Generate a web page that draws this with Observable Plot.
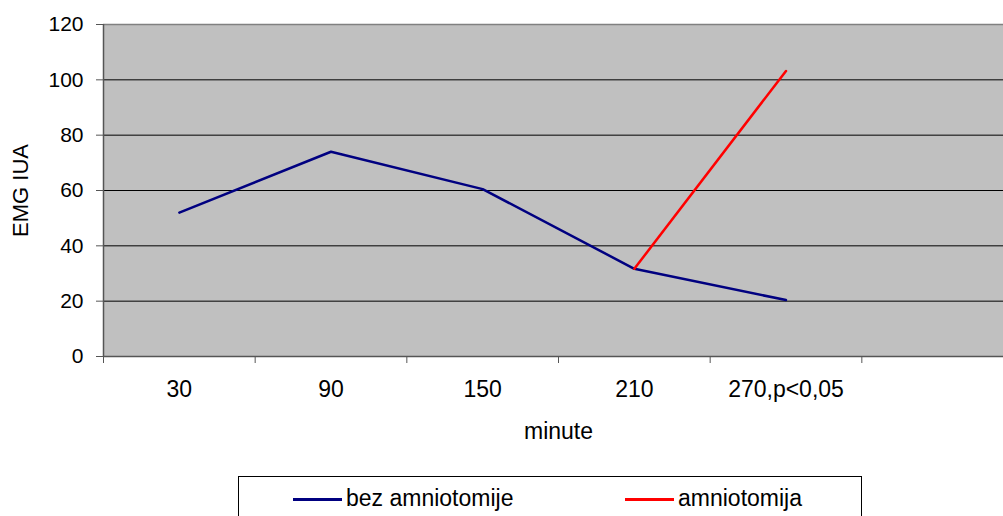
<!DOCTYPE html>
<html>
<head>
<meta charset="utf-8">
<script src="https://cdn.jsdelivr.net/npm/d3@7"></script>
<script src="https://cdn.jsdelivr.net/npm/@observablehq/plot@0.6"></script>
<style>
  html, body { margin: 0; padding: 0; background: #fff; overflow: hidden; width: 1003px; height: 516px; }
  #wrap { position: relative; width: 1003px; height: 516px; overflow: hidden; font-family: "Liberation Sans", Arial, sans-serif; }
  #wrap svg { position: absolute; left: 0; top: 0; max-width: none !important; }
  #legend { position: absolute; left: 238px; top: 476px; width: 624px; height: 60px; border: 1px solid #000; box-sizing: border-box; background: #fff; }
  .swatch { position: absolute; height: 2.5px; width: 49px; }
  .label { position: absolute; font-size: 23px; line-height: 23px; color: #000; white-space: nowrap; }
</style>
</head>
<body>
<div id="wrap"></div>
<script>
// ---- data ----
const categories = ["30", "90", "150", "210", "270,p<0,05"];
const bezAmniotomije = [52, 74, 60.5, 31.7, 20.4];
const amniotomija = [null, null, null, 31.7, 103.2];
const yTicks = [0, 20, 40, 60, 80, 100, 120];
const seriesNames = ["bez amniotomije", "amniotomija"];
const seriesColors = ["#000080", "#ff0000"];
const xTitle = "minute";
const yTitle = "EMG IUA";

// category slots: 5 labelled + 1 empty slot (as in the original)
const slotCount = categories.length + 1;
const rows = [];
categories.forEach((c, i) => {
  rows.push({series: seriesNames[0], pos: i + 0.5, value: bezAmniotomije[i]});
  if (amniotomija[i] != null) rows.push({series: seriesNames[1], pos: i + 0.5, value: amniotomija[i]});
});

const chart = Plot.plot({
  width: 1013,
  height: 476,
  marginLeft: 103,
  marginRight: 0,
  marginTop: 24,
  marginBottom: 120,
  style: {fontFamily: "'Liberation Sans', Arial, sans-serif", fontSize: "21px", color: "#000", background: "transparent", overflow: "visible", maxWidth: "none"},
  x: {domain: [0, slotCount], axis: null},
  y: {domain: [0, 120], axis: null},
  color: {domain: seriesNames, range: seriesColors},
  marks: [
    Plot.frame({fill: "#c0c0c0", stroke: null}),
    Plot.ruleY(yTicks.filter(d => d > 0 && d < 120), {stroke: "#000", strokeWidth: 1}),
    Plot.ruleY([120], {stroke: "#808080", strokeWidth: 1.5}),
    Plot.ruleY([0], {stroke: "#555", strokeWidth: 1.5}),
    Plot.ruleX([0], {stroke: "#555", strokeWidth: 1.5}),
    Plot.axisY({ticks: yTicks, tickSize: 7, tickPadding: 13, stroke: "#555", label: null, fontSize: 21}),
    Plot.axisX({ticks: d3.range(0, slotCount + 1), tickSize: 7, tickFormat: () => "", stroke: "#555", label: null}),
    Plot.axisX({ticks: categories.map((c, i) => i + 0.5), tickSize: 0, tickPadding: 24, tickFormat: d => categories[Math.round(d - 0.5)], label: null, fontSize: 23}),
    Plot.line(rows, {x: "pos", y: "value", z: "series", stroke: "series", strokeWidth: 2.5, curve: "linear"}),
    Plot.text([xTitle], {frameAnchor: "bottom", text: d => d, lineAnchor: "bottom", dy: 82, fontSize: 23}),
    Plot.text([yTitle], {frameAnchor: "left", text: d => d, rotate: -90, textAnchor: "middle", lineAnchor: "top", dx: -91, fontSize: 22})
  ]
});

const wrap = document.getElementById("wrap");
wrap.appendChild(chart);

const legend = document.createElement("div");
legend.id = "legend";
const swatchLefts = [54, 386];
seriesNames.forEach((name, i) => {
  const sw = document.createElement("div");
  sw.className = "swatch";
  sw.style.left = swatchLefts[i] + "px";
  sw.style.top = "21px";
  sw.style.background = seriesColors[i];
  legend.appendChild(sw);
  const lb = document.createElement("div");
  lb.className = "label";
  lb.style.left = (swatchLefts[i] + 53) + "px";
  lb.style.top = "10px";
  lb.textContent = name;
  legend.appendChild(lb);
});
wrap.appendChild(legend);
</script>
</body>
</html>
